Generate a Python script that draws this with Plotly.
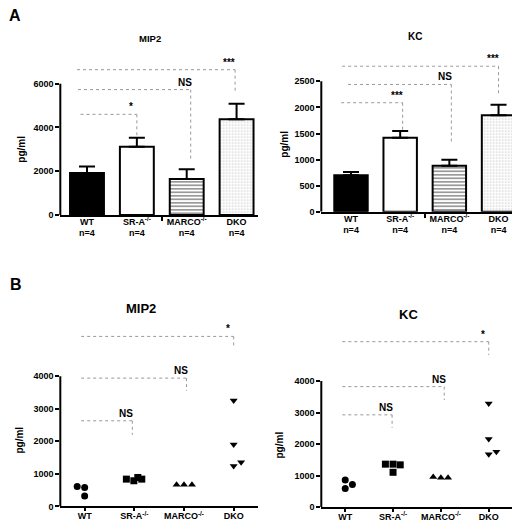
import plotly.graph_objects as go

W, H = 520, 526

# categories
groups = ["WT", "SR-A<sup>-/-</sup>", "MARCO<sup>-/-</sup>", "DKO"]
n_label = ["n=4", "n=4", "n=4", "n=4"]

# panel A: mean and SEM (pg/ml)
mip2_mean = [1920, 3120, 1640, 4380]
mip2_sem = [300, 410, 450, 700]
kc_mean = [700, 1420, 880, 1850]
kc_sem = [60, 130, 115, 200]

# panel B: individual values (pg/ml)
mip2_wt = [610, 580, 320]
mip2_sra = [840, 790, 890, 840]
mip2_marco = [670, 670, 670]
mip2_dko = [3250, 1900, 1240, 1360]
kc_wt = [860, 590, 720]
kc_sra = [1366, 1366, 1344, 1108]
kc_marco = [960, 935, 935]
kc_dko = [3290, 2160, 1680, 1760]

# horizontal spread of the dots within a column
mip2_dx = [[-0.15, 0, 0], [-0.16, -0.01, 0.07, 0.15], [-0.15, 0, 0.16], [0, 0, 0, 0.15]]
kc_dx = [[0, 0, 0.15], [-0.16, 0, 0.15, 0], [-0.16, 0, 0.15], [0, 0, 0, 0.16]]

# significance brackets: (from group, to group, height, drop to, label)
mip2_a_sig = [(-0.13, 1.0, 4600, 3620, "*"), (-0.18, 2.08, 5730, 2520, "NS"), (-0.2, 2.97, 6640, 5640, "***")]
kc_a_sig = [(-0.2, 1.05, 2090, 1560, "***"), (-0.06, 2.04, 2440, 1300, "NS"), (-0.18, 3.0, 2790, 2230, "***")]
mip2_b_sig = [(-0.07, 0.96, 2630, 2200, "NS"), (-0.07, 2.05, 3940, 3550, "NS"), (-0.07, 3.0, 5220, 4870, "*")]
kc_b_sig = [(-0.06, 0.98, 2930, 2520, "NS"), (-0.06, 2.07, 3825, 3400, "NS"), (-0.06, 3.0, 5250, 4830, "*")]

FONT = "Arial, Liberation Sans, sans-serif"


def px(x, y):
  return x / W, 1 - y / H


fig = go.Figure()

panels = {
  "1": dict(xd=[0.1006, 0.4808], yd=[0.6027, 0.9049], xr=[-0.535, 3.43], yr=[0, 7195], ytop=6000, dtick=2000),
  "2": dict(xd=[0.6025, 0.9808], yd=[0.6089, 0.9049], xr=[-0.604, 3.396], yr=[0, 2956], ytop=2500, dtick=500),
  "3": dict(xd=[0.1006, 0.4808], yd=[0.0432, 0.3916], xr=[-0.49, 3.49], yr=[0, 5571], ytop=4000, dtick=1000),
  "4": dict(xd=[0.6025, 0.9769], yd=[0.0418, 0.3916], xr=[-0.5, 3.57], yr=[0, 5780], ytop=4000, dtick=1000),
}

# bars (panel A)
bar_styles = [
  dict(color="black", line=dict(color="black", width=2)),
  dict(color="white", line=dict(color="black", width=2)),
  dict(color="white", line=dict(color="black", width=2),
       pattern=dict(shape="-", fgcolor="black", bgcolor="white", size=3.5, solidity=0.4)),
  dict(color="white", line=dict(color="black", width=2),
       pattern=dict(shape=".", fgcolor="#9a9a9a", bgcolor="white", size=3, solidity=0.25)),
]
for key, mean, sem in [("1", mip2_mean, mip2_sem), ("2", kc_mean, kc_sem)]:
  for i in range(4):
    fig.add_trace(go.Bar(
      x=[i], y=[mean[i]], width=0.68,
      marker=bar_styles[i],
      error_y=dict(type="data", symmetric=False, array=[sem[i]], arrayminus=[0],
                   color="black", thickness=2, width=8),
      xaxis="x" + key, yaxis="y" + key, showlegend=False,
    ))

# dots (panel B)
symbols = ["circle", "square", "triangle-up", "triangle-down"]
for key, vals, dx in [("3", [mip2_wt, mip2_sra, mip2_marco, mip2_dko], mip2_dx),
                      ("4", [kc_wt, kc_sra, kc_marco, kc_dko], kc_dx)]:
  for i in range(4):
    fig.add_trace(go.Scatter(
      x=[i + d for d in dx[i]], y=vals[i], mode="markers",
      marker=dict(symbol=symbols[i], color="black", size=7),
      xaxis="x" + key, yaxis="y" + key, showlegend=False, cliponaxis=False,
    ))

shapes = []
annotations = []
for key, p in panels.items():
  sfx = "" if key == "1" else key
  xa = dict(domain=p["xd"], range=p["xr"], anchor="y" + key, showgrid=False, zeroline=False,
            showline=True, linecolor="black", linewidth=2,
            tickmode="array", tickvals=[0, 1, 2, 3],
            tickfont=dict(family=FONT, size=9, color="black", weight="bold"))
  if key in ("1", "2"):
    xa["ticktext"] = [g + "<br>" + n for g, n in zip(groups, n_label)]
    xa["ticks"] = ""
    xa["ticklabelstandoff"] = -3
    xa["minor"] = dict(tickmode="array", tickvals=[1.5], ticks="outside", ticklen=4,
                       tickwidth=1.5, tickcolor="black")
  else:
    xa["ticktext"] = groups
    xa["ticks"] = "outside"
    xa["ticklen"] = 3
    xa["tickwidth"] = 1.5
    xa["tickcolor"] = "black"
    xa["ticklabelstandoff"] = -3
  ya = dict(domain=p["yd"], range=p["yr"], anchor="x" + key, showgrid=False, zeroline=False,
            showline=False, tickmode="array",
            tickvals=list(range(0, p["ytop"] + 1, p["dtick"])),
            ticks="outside", ticklen=4, tickwidth=1.5, tickcolor="black",
            tickfont=dict(family=FONT, size=9, color="black", weight="bold"))
  fig.update_layout({"xaxis" + sfx: xa, "yaxis" + sfx: ya})
  shapes.append(dict(type="line", xref="paper", yref="y" + key,
                     x0=p["xd"][0], x1=p["xd"][0], y0=0, y1=p["ytop"],
                     line=dict(color="black", width=2)))

for key, sig in [("1", mip2_a_sig), ("2", kc_a_sig), ("3", mip2_b_sig), ("4", kc_b_sig)]:
  for x0, x1, y, ydrop, label in sig:
    shapes.append(dict(type="line", xref="x" + key, yref="y" + key, x0=x0, x1=x1, y0=y, y1=y,
                       line=dict(color="#999999", width=1, dash="dot")))
    shapes.append(dict(type="line", xref="x" + key, yref="y" + key, x0=x1, x1=x1, y0=y, y1=ydrop,
                       line=dict(color="#999999", width=1, dash="dot")))
    annotations.append(dict(x=x1 - 0.12, y=y, xref="x" + key, yref="y" + key, text=label,
                            showarrow=False, yanchor="bottom", yshift=0,
                            font=dict(family=FONT, size=10, color="black", weight="bold")))

# titles, axis titles and panel letters
texts = [
  ("A", 7, 8, 16, 0), ("B", 8, 279, 16, 0),
  ("MIP2", 141.7, 30.7, 9.5, 0), ("KC", 406.7, 28.3, 10, 0),
  ("MIP2", 132.7, 303.3, 13, 0), ("KC", 400, 309.3, 13, 0),
  ("pg/ml", 14, 143, 10, -90), ("pg/ml", 277, 138, 10, -90),
  ("pg/ml", 12, 436.7, 10, -90), ("pg/ml", 272, 441.7, 10, -90),
]
for t, x, y, size, ang in texts:
  ax, ay = px(x, y)
  annotations.append(dict(x=ax, y=ay, xref="paper", yref="paper", text=t, showarrow=False,
                          textangle=ang, xanchor="center", yanchor="middle",
                          font=dict(family=FONT, size=size, color="black", weight="bold")))

fig.update_layout(
  width=W, height=H,
  margin=dict(l=0, r=0, t=0, b=0),
  paper_bgcolor="white", plot_bgcolor="white",
  barmode="overlay",
  shapes=shapes, annotations=annotations,
  font=dict(family=FONT, color="black"),
)

fig.write_html("out.html")
